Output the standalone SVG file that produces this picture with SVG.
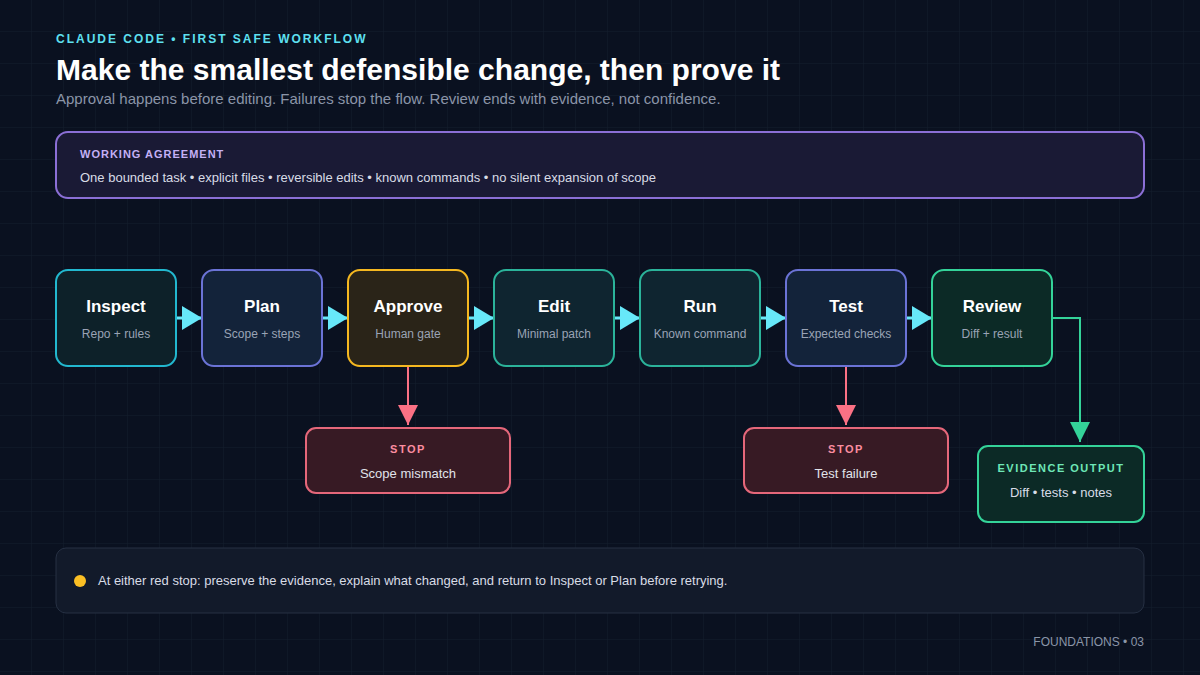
<svg xmlns="http://www.w3.org/2000/svg" width="1200" height="675" viewBox="0 0 1200 675">
<defs>
<pattern id="grid" width="32" height="32" patternUnits="userSpaceOnUse">
<path d="M32 0V32M0 32H32" fill="none" stroke="#141e2d" stroke-width="1"/>
</pattern>
<marker id="ac" viewBox="0 0 20 24" refX="20" refY="12" markerWidth="20" markerHeight="24" markerUnits="userSpaceOnUse" orient="auto"><path d="M0 0L20 12L0 24Z" fill="#67e8f9"/></marker>
<marker id="ar" viewBox="0 0 20 20" refX="20" refY="10" markerWidth="20" markerHeight="20" markerUnits="userSpaceOnUse" orient="auto"><path d="M0 0L20 10L0 20Z" fill="#fb7185"/></marker>
<marker id="ag" viewBox="0 0 20 20" refX="20" refY="10" markerWidth="20" markerHeight="20" markerUnits="userSpaceOnUse" orient="auto"><path d="M0 0L20 10L0 20Z" fill="#34d399"/></marker>
</defs>
<style>
text{font-family:"Liberation Sans",Arial,sans-serif}
.node rect{stroke-width:2}
.nt{font-size:17px;font-weight:bold;fill:#ffffff;text-anchor:middle}
.ns{font-size:12px;fill:#9aa3b5;text-anchor:middle}
.stop rect{fill:#371a24;stroke:#e5677a;stroke-width:2}
.sl{font-size:11px;font-weight:bold;fill:#fb8da0;text-anchor:middle;letter-spacing:1.5px}
.st{font-size:13px;fill:#e0e3ea;text-anchor:middle}
.cyan{fill:none;stroke:#67e8f9;stroke-width:3}
</style>
<rect width="1200" height="675" fill="#0a1120"/>
<rect width="1200" height="675" fill="url(#grid)"/>

<g id="header">
<text x="56" y="43" font-size="12" font-weight="bold" fill="#5ee0f0" letter-spacing="2">CLAUDE CODE • FIRST SAFE WORKFLOW</text>
<text x="56" y="80" font-size="30" font-weight="bold" fill="#ffffff" textLength="724" lengthAdjust="spacingAndGlyphs">Make the smallest defensible change, then prove it</text>
<text x="56" y="104" font-size="15" fill="#8b95a8">Approval happens before editing. Failures stop the flow. Review ends with evidence, not confidence.</text>
</g>

<g id="agreement">
<rect x="56" y="132" width="1088" height="66" rx="12" fill="#1a1a35" stroke="#8b6fd6" stroke-width="2"/>
<text x="80" y="158" font-size="11" font-weight="bold" fill="#c4b0f5" letter-spacing="1">WORKING AGREEMENT</text>
<text x="80" y="182" font-size="13" fill="#d8dce6">One bounded task • explicit files • reversible edits • known commands • no silent expansion of scope</text>
</g>

<g id="connectors">
<path class="cyan" d="M176 318H202" marker-end="url(#ac)"/>
<path class="cyan" d="M322 318H348" marker-end="url(#ac)"/>
<path class="cyan" d="M468 318H494" marker-end="url(#ac)"/>
<path class="cyan" d="M614 318H640" marker-end="url(#ac)"/>
<path class="cyan" d="M760 318H786" marker-end="url(#ac)"/>
<path class="cyan" d="M906 318H932" marker-end="url(#ac)"/>
<path d="M408 366V425" fill="none" stroke="#fb7185" stroke-width="2" marker-end="url(#ar)"/>
<path d="M846 366V425" fill="none" stroke="#fb7185" stroke-width="2" marker-end="url(#ar)"/>
<path d="M1052 318H1080V442" fill="none" stroke="#34d399" stroke-width="2" marker-end="url(#ag)"/>
</g>

<g id="inspect" class="node"><rect x="56" y="270" width="120" height="96" rx="12" fill="#0d2129" stroke="#22b8cf"/><text class="nt" x="116" y="312">Inspect</text><text class="ns" x="116" y="338">Repo + rules</text></g>
<g id="plan" class="node"><rect x="202" y="270" width="120" height="96" rx="12" fill="#13233a" stroke="#6b73d6"/><text class="nt" x="262" y="312">Plan</text><text class="ns" x="262" y="338">Scope + steps</text></g>
<g id="approve" class="node"><rect x="348" y="270" width="120" height="96" rx="12" fill="#2a2418" stroke="#f5b820"/><text class="nt" x="408" y="312">Approve</text><text class="ns" x="408" y="338">Human gate</text></g>
<g id="edit" class="node"><rect x="494" y="270" width="120" height="96" rx="12" fill="#0f2530" stroke="#2bb39a"/><text class="nt" x="554" y="312">Edit</text><text class="ns" x="554" y="338">Minimal patch</text></g>
<g id="run" class="node"><rect x="640" y="270" width="120" height="96" rx="12" fill="#0f2530" stroke="#2bb39a"/><text class="nt" x="700" y="312">Run</text><text class="ns" x="700" y="338">Known command</text></g>
<g id="test" class="node"><rect x="786" y="270" width="120" height="96" rx="12" fill="#13233a" stroke="#6b73d6"/><text class="nt" x="846" y="312">Test</text><text class="ns" x="846" y="338">Expected checks</text></g>
<g id="review" class="node"><rect x="932" y="270" width="120" height="96" rx="12" fill="#0c2a26" stroke="#34d399"/><text class="nt" x="992" y="312">Review</text><text class="ns" x="992" y="338">Diff + result</text></g>

<g id="stop-scope" class="stop"><rect x="306" y="428" width="204" height="65" rx="10"/><text class="sl" x="408" y="453">STOP</text><text class="st" x="408" y="478">Scope mismatch</text></g>
<g id="stop-test" class="stop"><rect x="744" y="428" width="204" height="65" rx="10"/><text class="sl" x="846" y="453">STOP</text><text class="st" x="846" y="478">Test failure</text></g>

<g id="evidence"><rect x="978" y="446" width="166" height="76" rx="10" fill="#0c2a26" stroke="#34d399" stroke-width="2"/><text x="1061" y="472" font-size="11" font-weight="bold" fill="#6ee7b7" text-anchor="middle" letter-spacing="1.5">EVIDENCE OUTPUT</text><text x="1061" y="497" font-size="13" fill="#d8dce6" text-anchor="middle">Diff • tests • notes</text></g>

<g id="note">
<rect x="56" y="548" width="1088" height="65" rx="10" fill="#121a2a" stroke="#263043" stroke-width="1"/>
<circle cx="80" cy="581" r="6" fill="#fbbf24"/>
<text x="98" y="585" font-size="13" fill="#d8dce6">At either red stop: preserve the evidence, explain what changed, and return to Inspect or Plan before retrying.</text>
</g>

<text x="1144" y="646" font-size="12" fill="#8b95a8" text-anchor="end">FOUNDATIONS • 03</text>
</svg>
